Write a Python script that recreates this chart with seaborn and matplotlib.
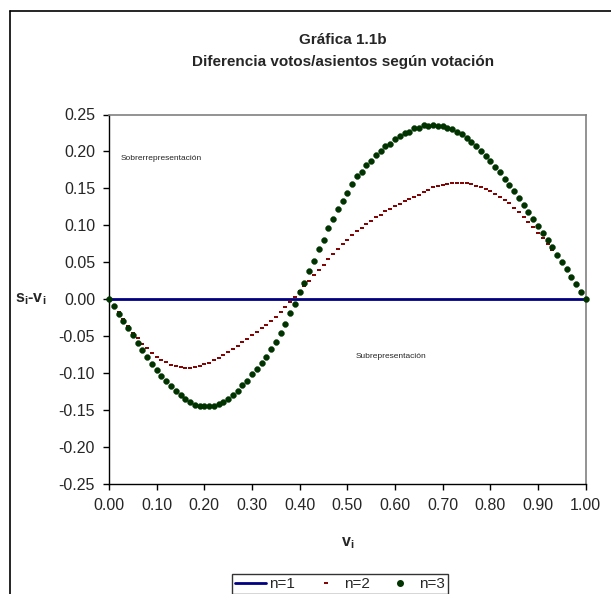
import numpy as np
import pandas as pd
import matplotlib
matplotlib.use("Agg")
import matplotlib.pyplot as plt
import seaborn as sns
from matplotlib.lines import Line2D
from matplotlib.ticker import FormatStrFormatter

# share of votes v_i, 0.00 .. 1.00
v = np.round(np.arange(101) * 0.01, 2)

# s_i - v_i
n1 = [0.0] * 101

n2 = [0.0, -0.0085, -0.017, -0.0265, -0.036, -0.045, -0.0524, -0.060, -0.0663, -0.0727,
      -0.0776, -0.0817, -0.0853, -0.0885, -0.0903, -0.092, -0.0925, -0.0925, -0.0912, -0.0898,
      -0.088, -0.0858, -0.0826, -0.0794, -0.0754, -0.0713, -0.0673, -0.0628, -0.0582, -0.0533,
      -0.0483, -0.0438, -0.0388, -0.0344, -0.029, -0.0235, -0.0172, -0.0108, -0.0032, 0.003,
      0.0105, 0.0176, 0.0252, 0.0325, 0.040, 0.0468, 0.055, 0.061, 0.068, 0.0742,
      0.0802, 0.087, 0.0926, 0.0965, 0.1019, 0.106, 0.1112, 0.1138, 0.1193, 0.1224,
      0.1262, 0.1295, 0.1335, 0.1355, 0.1389, 0.1416, 0.1448, 0.1475, 0.1516, 0.1529,
      0.1543, 0.1556, 0.157, 0.1574, 0.1578, 0.157, 0.156, 0.1537, 0.1516, 0.1493,
      0.1465, 0.1429, 0.1389, 0.1344, 0.1299, 0.124, 0.1181, 0.1114, 0.1046, 0.0974,
      0.0901, 0.083, 0.0748, 0.0671, 0.059, 0.051, 0.0415, 0.0315, 0.021, 0.0105,
      0.0]

n3 = [0.0, -0.0095, -0.0195, -0.029, -0.039, -0.049, -0.0587, -0.068, -0.078, -0.087,
      -0.0955, -0.1034, -0.111, -0.118, -0.1245, -0.130, -0.135, -0.139, -0.1426, -0.1448,
      -0.145, -0.145, -0.144, -0.1417, -0.1386, -0.135, -0.129, -0.1237, -0.1164, -0.110,
      -0.1015, -0.094, -0.0858, -0.078, -0.0673, -0.0573, -0.046, -0.0334, -0.0187, -0.0064,
      0.0095, 0.0225, 0.0387, 0.0518, 0.0677, 0.0807, 0.096, 0.1084, 0.122, 0.1326,
      0.144, 0.1564, 0.1664, 0.1724, 0.1817, 0.1868, 0.195, 0.200, 0.2077, 0.2105,
      0.217, 0.2206, 0.2255, 0.2268, 0.2314, 0.2323, 0.2355, 0.235, 0.2359, 0.235,
      0.2345, 0.2314, 0.230, 0.2264, 0.2233, 0.218, 0.2133, 0.207, 0.2011, 0.194,
      0.187, 0.1795, 0.1723, 0.1632, 0.1551, 0.1461, 0.137, 0.1276, 0.1185, 0.109,
      0.0996, 0.0893, 0.0798, 0.0704, 0.060, 0.050, 0.0406, 0.0306, 0.0207, 0.0103,
      0.0]

series_names = ["n=1", "n=2", "n=3"]
x_ticks = [0.0, 0.1, 0.2, 0.3, 0.4, 0.5, 0.6, 0.7, 0.8, 0.9, 1.0]
y_ticks = [-0.25, -0.20, -0.15, -0.10, -0.05, 0.0, 0.05, 0.10, 0.15, 0.20, 0.25]

df = pd.concat([
    pd.DataFrame({"v": v, "diff": n1, "n": series_names[0]}),
    pd.DataFrame({"v": v, "diff": n2, "n": series_names[1]}),
    pd.DataFrame({"v": v, "diff": n3, "n": series_names[2]}),
], ignore_index=True)

sns.set_style("white")
plt.rcParams["font.family"] = ["Liberation Sans", "DejaVu Sans"]
plt.rcParams["mathtext.fontset"] = "custom"
plt.rcParams["mathtext.rm"] = "Liberation Sans"
plt.rcParams["mathtext.bf"] = "Liberation Sans:bold"

navy = "#000080"
red = "#800000"
green = "#003300"

fig = plt.figure(figsize=(6.11, 5.94), dpi=100)
ax = fig.add_axes([109 / 611, 1 - 484 / 594, 476.7 / 611, 369.5 / 594])

sns.lineplot(data=df[df["n"] == "n=1"], x="v", y="diff", color=navy, linewidth=2.0,
             ax=ax, legend=False, zorder=2)
sns.scatterplot(data=df[df["n"] == "n=2"], x="v", y="diff", marker="_", s=10,
                color=red, linewidth=1.4, ax=ax, legend=False, zorder=3, clip_on=False)
sns.scatterplot(data=df[df["n"] == "n=3"], x="v", y="diff", marker="o", s=18,
                color=green, edgecolor=green, linewidth=0.3, ax=ax, legend=False, zorder=4,
                clip_on=False)

ax.set_xlim(0, 1)
ax.set_ylim(-0.25, 0.25)
ax.set_xticks(x_ticks)
ax.set_yticks(y_ticks)
ax.xaxis.set_major_formatter(FormatStrFormatter("%.2f"))
ax.yaxis.set_major_formatter(FormatStrFormatter("%.2f"))
ax.tick_params(axis="both", direction="out", length=4, width=1, color="black",
               labelsize=11.5, pad=6, bottom=True, left=True)
for side in ["left", "bottom"]:
    ax.spines[side].set_color("black")
    ax.spines[side].set_linewidth(1)
for side in ["top", "right"]:
    ax.spines[side].set_color("#808080")
    ax.spines[side].set_linewidth(1.2)

ax.set_xlabel(r"$\mathbf{v_i}$", fontsize=11.5)
ax.xaxis.set_label_coords(0.5, -0.14)
ax.set_ylabel(r"$\mathbf{s_i}$-$\mathbf{v_i}$", fontsize=11.5, fontweight="bold",
              rotation=0, ha="center", va="center")
ax.yaxis.set_label_coords(-0.165, 0.5)

ax.text(0.025, 0.191, "Sobrerrepresentación", fontsize=6, va="center", ha="left")
ax.text(0.5175, -0.078, "Subrepresentación", fontsize=6, va="center", ha="left")

fig.text(343 / 611, 1 - 40 / 594, "Gráfica 1.1b", fontsize=11, fontweight="bold",
         ha="center", va="center")
fig.text(343 / 611, 1 - 62 / 594, "Diferencia votos/asientos según votación", fontsize=11,
         fontweight="bold", ha="center", va="center")

handles = [
    Line2D([], [], color=navy, linewidth=2.0),
    Line2D([], [], color=red, marker="_", linestyle="none", markersize=3, markeredgewidth=1.4),
    Line2D([], [], color=green, marker="o", linestyle="none", markersize=4),
]
leg = fig.legend(handles, series_names, loc="center", bbox_to_anchor=(340 / 611, 1 - 584 / 594),
                 ncol=3, fontsize=11, frameon=True, fancybox=False, handlelength=2.0,
                 handletextpad=0.2, columnspacing=1.0, borderpad=0.2, borderaxespad=0)
leg.get_frame().set_edgecolor("black")
leg.get_frame().set_linewidth(1)

# outer chart border (left and top edges visible)
fig.add_artist(Line2D([9.5 / 611, 9.5 / 611], [0, 1 - 10.5 / 594], color="black",
                      linewidth=1.2, transform=fig.transFigure))
fig.add_artist(Line2D([9.5 / 611, 1], [1 - 10.5 / 594, 1 - 10.5 / 594], color="black",
                      linewidth=1.2, transform=fig.transFigure))

fig.savefig("out.png", dpi=100)
plt.close(fig)
